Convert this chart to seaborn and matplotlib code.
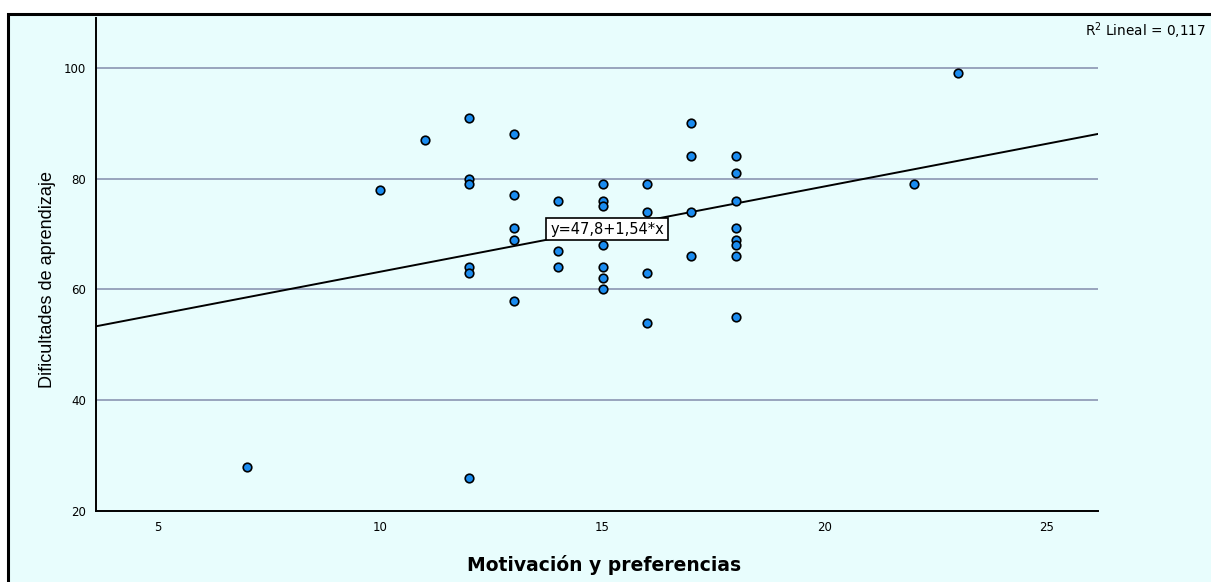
import numpy as np
import pandas as pd
import matplotlib
matplotlib.use("Agg")
import matplotlib.pyplot as plt
import seaborn as sns
from matplotlib.patches import Rectangle

# Datos (Motivacion vs Dificultades)
motivacion = [7, 10, 11, 12, 12, 12, 12, 12, 12,
              13, 13, 13, 13, 13, 14, 14, 14,
              15, 15, 15, 15, 15, 15, 15,
              16, 16, 16, 16, 17, 17, 17, 17,
              18, 18, 18, 18, 18, 18, 18, 18, 22, 23]
dificultades = [28, 78, 87, 91, 80, 79, 64, 63, 26,
                88, 77, 71, 69, 58, 76, 67, 64,
                79, 76, 75, 68, 64, 62, 60,
                79, 74, 63, 54, 90, 84, 74, 66,
                84, 81, 76, 71, 69, 68, 66, 55, 79, 99]
intercepto = 47.8
pendiente = 1.54
r2_texto = "R$^2$ Lineal = 0,117"
ecuacion = "y=47,8+1,54*x"
x_ticks = [5, 10, 15, 20, 25]
y_ticks = [20, 40, 60, 80, 100]

df = pd.DataFrame({"Motivación y preferencias": motivacion,
                   "Dificultades de aprendizaje": dificultades})

sns.set_style("white")
plt.rcParams["font.family"] = ["DejaVu Sans"]
plt.rcParams["text.color"] = "black"
plt.rcParams["axes.labelcolor"] = "black"

fondo = "#e8fdfd"
fig = plt.figure(figsize=(12.11, 5.82), dpi=100)
fig.patch.set_facecolor("white")

# marco exterior (detras de los ejes)
marco = Rectangle((8 / 1211, -0.01), 1.2, 1 - 14 / 582 + 0.01, transform=fig.transFigure,
                  facecolor=fondo, edgecolor="black", linewidth=2.2, zorder=-10)
fig.add_artist(marco)

ax = fig.add_axes([96 / 1211, 71 / 582, 1002 / 1211, 493 / 582])
ax.set_facecolor(fondo)

for yv in y_ticks[1:]:
    ax.axhline(yv, color="#98a4bd", linewidth=1.4, zorder=1)

xs = np.array([3.6, 26.2])
ax.plot(xs, intercepto + pendiente * xs, color="black", linewidth=1.4, zorder=2)

sns.scatterplot(data=df, x="Motivación y preferencias", y="Dificultades de aprendizaje",
                ax=ax, color="#1a8cf0", edgecolor="black", linewidth=1.2, s=38, zorder=3)

ax.text(15.1, 70.9, ecuacion, ha="center", va="center", fontsize=10.5, zorder=4,
        bbox=dict(boxstyle="square,pad=0.25", facecolor="white", edgecolor="black", linewidth=1.2))

ax.set_xlim(3.6, 26.15)
ax.set_ylim(20, 109)
ax.set_xticks(x_ticks)
ax.set_yticks(y_ticks)
ax.tick_params(axis="both", length=0, labelsize=8.5, colors="black")
ax.tick_params(axis="x", pad=7)
ax.tick_params(axis="y", pad=7)
for s in ["top", "right"]:
    ax.spines[s].set_visible(False)
for s in ["left", "bottom"]:
    ax.spines[s].set_color("black")
    ax.spines[s].set_linewidth(1.4)

ax.set_xlabel("Motivación y preferencias", fontsize=13.5, fontweight="bold")
ax.xaxis.set_label_coords((604 - 96) / 1002, (582 - 565 - 71) / 493)
ax.xaxis.label.set_va("center")
ax.set_ylabel("Dificultades de aprendizaje", fontsize=13,
              family=["Liberation Sans", "DejaVu Sans"])
ax.yaxis.set_label_coords((48 - 96) / 1002, (582 - 280 - 71) / 493)
ax.yaxis.label.set_va("center")

fig.text(1085 / 1211, 1 - 31 / 582, r2_texto, fontsize=9.8, ha="left", va="center")

fig.savefig("out.png", dpi=100, facecolor=fig.get_facecolor())
